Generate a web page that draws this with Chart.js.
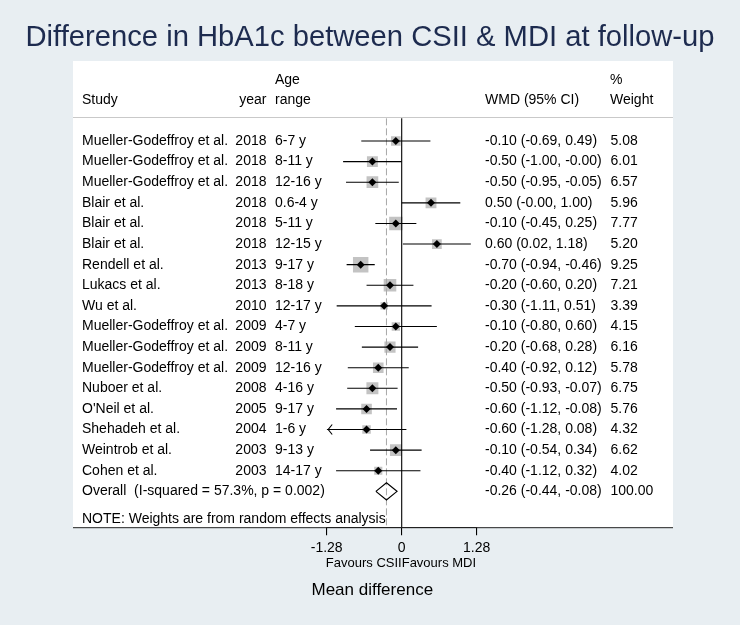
<!DOCTYPE html>
<html>
<head>
<meta charset="utf-8">
<script src="https://cdn.jsdelivr.net/npm/chart.js@4/dist/chart.umd.min.js"></script>
<style>
  html, body { margin: 0; padding: 0; background: #e8eef2; }
  #wrap { width: 740px; height: 625px; position: relative; }
</style>
</head>
<body>
<div id="wrap"><canvas id="c"></canvas></div>
<script>
// ---------- data ----------
const chartTitle = "Difference in HbA1c between CSII & MDI at follow-up";
const studies = ["Mueller-Godeffroy et al.", "Mueller-Godeffroy et al.", "Mueller-Godeffroy et al.",
  "Blair et al.", "Blair et al.", "Blair et al.", "Rendell et al.", "Lukacs et al.", "Wu et al.",
  "Mueller-Godeffroy et al.", "Mueller-Godeffroy et al.", "Mueller-Godeffroy et al.",
  "Nuboer et al.", "O'Neil et al.", "Shehadeh et al.", "Weintrob et al.", "Cohen et al."];
const years = [2018, 2018, 2018, 2018, 2018, 2018, 2013, 2013, 2010, 2009, 2009, 2009, 2008, 2005, 2004, 2003, 2003];
const ageRanges = ["6-7 y", "8-11 y", "12-16 y", "0.6-4 y", "5-11 y", "12-15 y", "9-17 y", "8-18 y", "12-17 y",
  "4-7 y", "8-11 y", "12-16 y", "4-16 y", "9-17 y", "1-6 y", "9-13 y", "14-17 y"];
const wmd = [-0.10, -0.50, -0.50, 0.50, -0.10, 0.60, -0.70, -0.20, -0.30, -0.10, -0.20, -0.40, -0.50, -0.60, -0.60, -0.10, -0.40];
const ciLow = [-0.69, -1.00, -0.95, -0.00, -0.45, 0.02, -0.94, -0.60, -1.11, -0.80, -0.68, -0.92, -0.93, -1.12, -1.28, -0.54, -1.12];
const ciHigh = [0.49, -0.00, -0.05, 1.00, 0.25, 1.18, -0.46, 0.20, 0.51, 0.60, 0.28, 0.12, -0.07, -0.08, 0.08, 0.34, 0.32];
const weights = [5.08, 6.01, 6.57, 5.96, 7.77, 5.20, 9.25, 7.21, 3.39, 4.15, 6.16, 5.78, 6.75, 5.76, 4.32, 6.62, 4.02];
const overallLabel = "Overall  (I-squared = 57.3%, p = 0.002)";
const overallEst = [-0.26];
const overallLow = [-0.44];
const overallHigh = [-0.08];
const overallWeight = [100.00];
const headerTop = ["Age", "%"];
const headerBottom = ["Study", "year", "range", "WMD (95% CI)", "Weight"];
const noteText = "NOTE: Weights are from random effects analysis";
const tickValues = [-1.28, 0, 1.28];
const tickLabels = ["-1.28", "0", "1.28"];
const favourLabels = ["Favours CSII", "Favours MDI"];
const axisTitle = "Mean difference";

// ---------- helpers ----------
const FONT = '"Liberation Sans", Arial, Helvetica, sans-serif';
function fmt(v) { return (Object.is(v, -0) ? '-' : '') + v.toFixed(2); }
const nStudies = studies.length;
const overallRow = nStudies + 1;
const boxSide = w => 1.4 * w + 2.5;

// ---------- datasets ----------
const datasets = [];
// squares (weights)
datasets.push({
  type: 'scatter', label: 'weight boxes', order: 6,
  data: wmd.map((v, i) => ({ x: v, y: i + 1 })),
  pointStyle: 'rect',
  pointRadius: weights.map(w => boxSide(w) / Math.SQRT2),
  pointHoverRadius: weights.map(w => boxSide(w) / Math.SQRT2),
  backgroundColor: '#c3c3c3', borderWidth: 0
});
// confidence intervals
wmd.forEach((v, i) => {
  datasets.push({
    type: 'line', label: 'ci' + i, order: 3,
    data: [{ x: ciLow[i], y: i + 1 }, { x: ciHigh[i], y: i + 1 }],
    borderColor: '#000', borderWidth: 1.1, pointRadius: 0, fill: false, tension: 0
  });
});
// reference line at zero
datasets.push({
  type: 'line', label: 'zero', order: 4,
  data: [{ x: 0, y: -0.1 }, { x: 0, y: 21 }],
  borderColor: '#000', borderWidth: 1.1, pointRadius: 0, fill: false
});
// overall effect dashed line
datasets.push({
  type: 'line', label: 'overall line', order: 5,
  data: [{ x: overallEst[0], y: -0.1 }, { x: overallEst[0], y: 21 }],
  borderColor: '#a8a8a8', borderWidth: 1, borderDash: [7, 3], pointRadius: 0, fill: false
});
// point estimates
datasets.push({
  type: 'scatter', label: 'estimates', order: 1,
  data: wmd.map((v, i) => ({ x: v, y: i + 1 })),
  pointStyle: 'rectRot', pointRadius: 4, pointHoverRadius: 4,
  backgroundColor: '#000', borderColor: '#000', borderWidth: 0
});
// overall diamond
const dh = 0.42;
datasets.push({
  type: 'line', label: 'overall', order: 2,
  data: [
    { x: overallLow[0], y: overallRow }, { x: overallEst[0], y: overallRow - dh },
    { x: overallHigh[0], y: overallRow }, { x: overallEst[0], y: overallRow + dh },
    { x: overallLow[0], y: overallRow }
  ],
  borderColor: '#000', borderWidth: 1.2, pointRadius: 0, fill: false, tension: 0,
  backgroundColor: '#fff'
});

// ---------- plugin: background, panel, texts ----------
const decor = {
  id: 'decor',
  beforeDraw(chart) {
    const ctx = chart.ctx;
    ctx.save();
    ctx.fillStyle = '#e8eef2';
    ctx.fillRect(0, 0, chart.width, chart.height);
    ctx.fillStyle = '#ffffff';
    ctx.fillRect(73, 61, 600, chart.chartArea.bottom - 61);
    ctx.restore();
  },
  afterDatasetsDraw(chart) {
    const ctx = chart.ctx, xs = chart.scales.x, ys = chart.scales.y;
    ctx.save();
    // arrows for clipped CIs
    ciLow.forEach((lo, i) => {
      if (lo <= xs.min) {
        const px = xs.getPixelForValue(xs.min) + 1.5, py = ys.getPixelForValue(i + 1);
        ctx.strokeStyle = '#000'; ctx.lineWidth = 1.1;
        ctx.beginPath();
        ctx.moveTo(px + 4, py - 5); ctx.lineTo(px, py); ctx.lineTo(px + 4, py + 5);
        ctx.stroke();
      }
    });
    ctx.restore();
  },
  afterDraw(chart) {
    const ctx = chart.ctx, xs = chart.scales.x, ys = chart.scales.y, ca = chart.chartArea;
    ctx.save();
    // divider & bottom line
    ctx.strokeStyle = '#c9c9c9'; ctx.lineWidth = 1;
    ctx.beginPath(); ctx.moveTo(73, ca.top + 0.5); ctx.lineTo(673, ca.top + 0.5); ctx.stroke();
    ctx.strokeStyle = '#222';
    ctx.beginPath(); ctx.moveTo(73, ca.bottom + 0.5); ctx.lineTo(673, ca.bottom + 0.5); ctx.stroke();

    // title
    ctx.fillStyle = '#1d2b4f';
    ctx.font = '29.2px ' + FONT;
    ctx.textAlign = 'center'; ctx.textBaseline = 'middle';
    ctx.fillText(chartTitle, 370, 38);

    // table text
    ctx.fillStyle = '#000';
    ctx.font = '14px ' + FONT;
    const yTop = ys.getPixelForValue(-1.97), yHead = ys.getPixelForValue(-1);
    ctx.textAlign = 'left';
    ctx.fillText(headerTop[0], 275, yTop);
    ctx.fillText(headerTop[1], 610, yTop);
    ctx.fillText(headerBottom[0], 82, yHead);
    ctx.textAlign = 'right'; ctx.fillText(headerBottom[1], 266.5, yHead);
    ctx.textAlign = 'left';
    ctx.fillText(headerBottom[2], 275, yHead);
    ctx.fillText(headerBottom[3], 485, yHead);
    ctx.fillText(headerBottom[4], 610, yHead);

    studies.forEach((s, i) => {
      const py = ys.getPixelForValue(i + 1);
      ctx.textAlign = 'left'; ctx.fillText(s, 82, py);
      ctx.textAlign = 'right'; ctx.fillText(String(years[i]), 266.5, py);
      ctx.textAlign = 'left'; ctx.fillText(ageRanges[i], 275, py);
      ctx.fillText(fmt(wmd[i]) + ' (' + fmt(ciLow[i]) + ', ' + fmt(ciHigh[i]) + ')', 485, py);
      ctx.fillText(weights[i].toFixed(2), 610.5, py);
    });
    const po = ys.getPixelForValue(overallRow);
    ctx.fillText(overallLabel, 82, po);
    ctx.fillText(fmt(overallEst[0]) + ' (' + fmt(overallLow[0]) + ', ' + fmt(overallHigh[0]) + ')', 485, po);
    ctx.fillText(overallWeight[0].toFixed(2), 610.5, po);
    ctx.fillText(noteText, 82, ys.getPixelForValue(19.36));

    // favours labels & axis title
    const x0 = xs.getPixelForValue(0);
    ctx.font = '13px ' + FONT;
    ctx.textAlign = 'right'; ctx.fillText(favourLabels[0], x0, 563);
    ctx.textAlign = 'left'; ctx.fillText(favourLabels[1], x0, 563);
    ctx.font = '17px ' + FONT;
    ctx.fillText(axisTitle, 311.5, 590);
    ctx.restore();
  }
};

new Chart(document.getElementById('c'), {
  data: { datasets },
  plugins: [decor],
  options: {
    responsive: true, maintainAspectRatio: false, animation: false,
    layout: { padding: { left: 326.7, right: 263.3, top: 117, bottom: 63 } },
    plugins: { legend: { display: false }, tooltip: { enabled: false }, title: { display: false } },
    scales: {
      x: {
        type: 'linear', position: 'bottom', min: -1.28, max: 1.28,
        afterBuildTicks: (axis) => { axis.ticks = tickValues.map(v => ({ value: v })); },
        ticks: {
          color: '#000', font: { family: FONT, size: 14 }, padding: 5, maxRotation: 0, autoSkip: false,
          callback: (v) => tickLabels[tickValues.indexOf(v)]
        },
        grid: { display: true, drawOnChartArea: false, drawTicks: true, tickLength: 8, color: '#000', lineWidth: 1.1 },
        border: { display: true, color: '#222', width: 1 }
      },
      y: {
        type: 'linear', reverse: true, min: -0.165, max: 19.74, display: false
      }
    }
  }
});
</script>
</body>
</html>
